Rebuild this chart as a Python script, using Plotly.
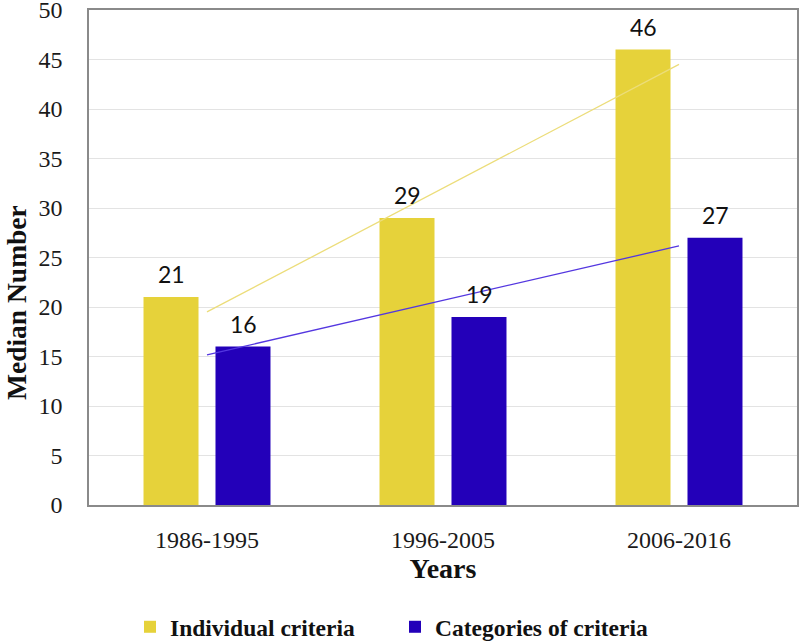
import numpy as np
import plotly.graph_objects as go

# ── Data ─────────────────────────────────────────────────────────────
periods = ["1986-1995", "1996-2005", "2006-2016"]
individual = [21, 29, 46]
categories = [16, 19, 27]
y_ticks = [0, 5, 10, 15, 20, 25, 30, 35, 40, 45, 50]

YELLOW = "#E6D23A"
BLUE = "#2300B9"
YELLOW_TREND = "#ECDD7A"
BLUE_TREND = "#5437E0"
SERIF = "Liberation Serif, Times New Roman, serif"

W, H = 800, 641
M = dict(l=89, r=3, t=10, b=136)
PW = W - M["l"] - M["r"]
PH = H - M["t"] - M["b"]


def trend(values):
    """Linear trendline evaluated at first and last category."""
    idx = np.arange(len(values))
    slope, intercept = np.polyfit(idx, values, 1)
    return [intercept, slope * idx[-1] + intercept]


fig = go.Figure()

fig.add_trace(go.Bar(
    x=periods, y=individual, name="Individual criteria",
    marker=dict(color=YELLOW, line=dict(width=0)),
))
fig.add_trace(go.Bar(
    x=periods, y=categories, name="Categories of criteria",
    marker=dict(color=BLUE, line=dict(width=0)),
))

# trend lines (linear fit across the three periods)
fig.add_trace(go.Scatter(
    x=[periods[0], periods[-1]], y=trend(individual),
    mode="lines", line=dict(color=YELLOW_TREND, width=1.3),
    showlegend=False, hoverinfo="skip",
))
fig.add_trace(go.Scatter(
    x=[periods[0], periods[-1]], y=trend(categories),
    mode="lines", line=dict(color=BLUE_TREND, width=1.3),
    showlegend=False, hoverinfo="skip",
))

# value labels above the bars
annotations = []
for series, shift in ((individual, -36), (categories, 36)):
    for p, v in zip(periods, series):
        annotations.append(dict(
            x=p, y=v, text=str(v), showarrow=False,
            xshift=shift, yanchor="bottom", yshift=7,
            font=dict(family="Lato, Open Sans, sans-serif", size=23, color="#111"),
        ))

# y axis title sits a little below the plot's middle, like the original
annotations.append(dict(
    text="<b>Median Number</b>", textangle=-90, showarrow=False,
    xref="paper", yref="paper",
    x=(16 - M["l"]) / PW, y=(H - M["b"] - 303) / PH,
    xanchor="center", yanchor="middle",
    font=dict(family=SERIF, size=27.5, color="#111"),
))

fig.update_layout(
    width=W, height=H,
    paper_bgcolor="white", plot_bgcolor="white",
    margin=M,
    barmode="group", bargap=0.39, bargroupgap=0.236,
    font=dict(family=SERIF, color="#1a1a1a"),
    annotations=annotations,
    # legend placed against the whole figure so it does not push the margins
    legend=dict(
        orientation="h", x=(130 - M["l"]) / PW, xanchor="left",
        yref="container", y=(H - 627) / H, yanchor="middle",
        font=dict(family=SERIF, size=23.5, color="#111", weight="bold"),
        itemwidth=30, entrywidth=220, traceorder="normal",
    ),
    xaxis=dict(
        automargin=False,
        showgrid=False, showline=True, mirror=True,
        linecolor="#8a8a8a", linewidth=1.5,
        ticks="outside", ticklen=12, tickcolor="rgba(0,0,0,0)",
        tickfont=dict(family=SERIF, size=24, color="#1a1a1a"),
        title=dict(text="<b>Years</b>", standoff=5,
                   font=dict(family=SERIF, size=28, color="#111")),
    ),
    yaxis=dict(
        automargin=False, ticklabeloverflow="allow",
        range=[0, 50], tickvals=y_ticks,
        showgrid=True, gridcolor="#E3E3E3", gridwidth=1,
        zeroline=False, showline=True, mirror=True,
        linecolor="#8a8a8a", linewidth=1.5,
        ticks="outside", ticklen=20, tickcolor="rgba(0,0,0,0)",
        tickfont=dict(family=SERIF, size=24, color="#1a1a1a"),
    ),
)

# drop the browser's default body margin so the figure fills the window
fig.write_html(
    "out.html",
    config={"displayModeBar": False},
    post_script="document.body.style.margin='0px';",
)
